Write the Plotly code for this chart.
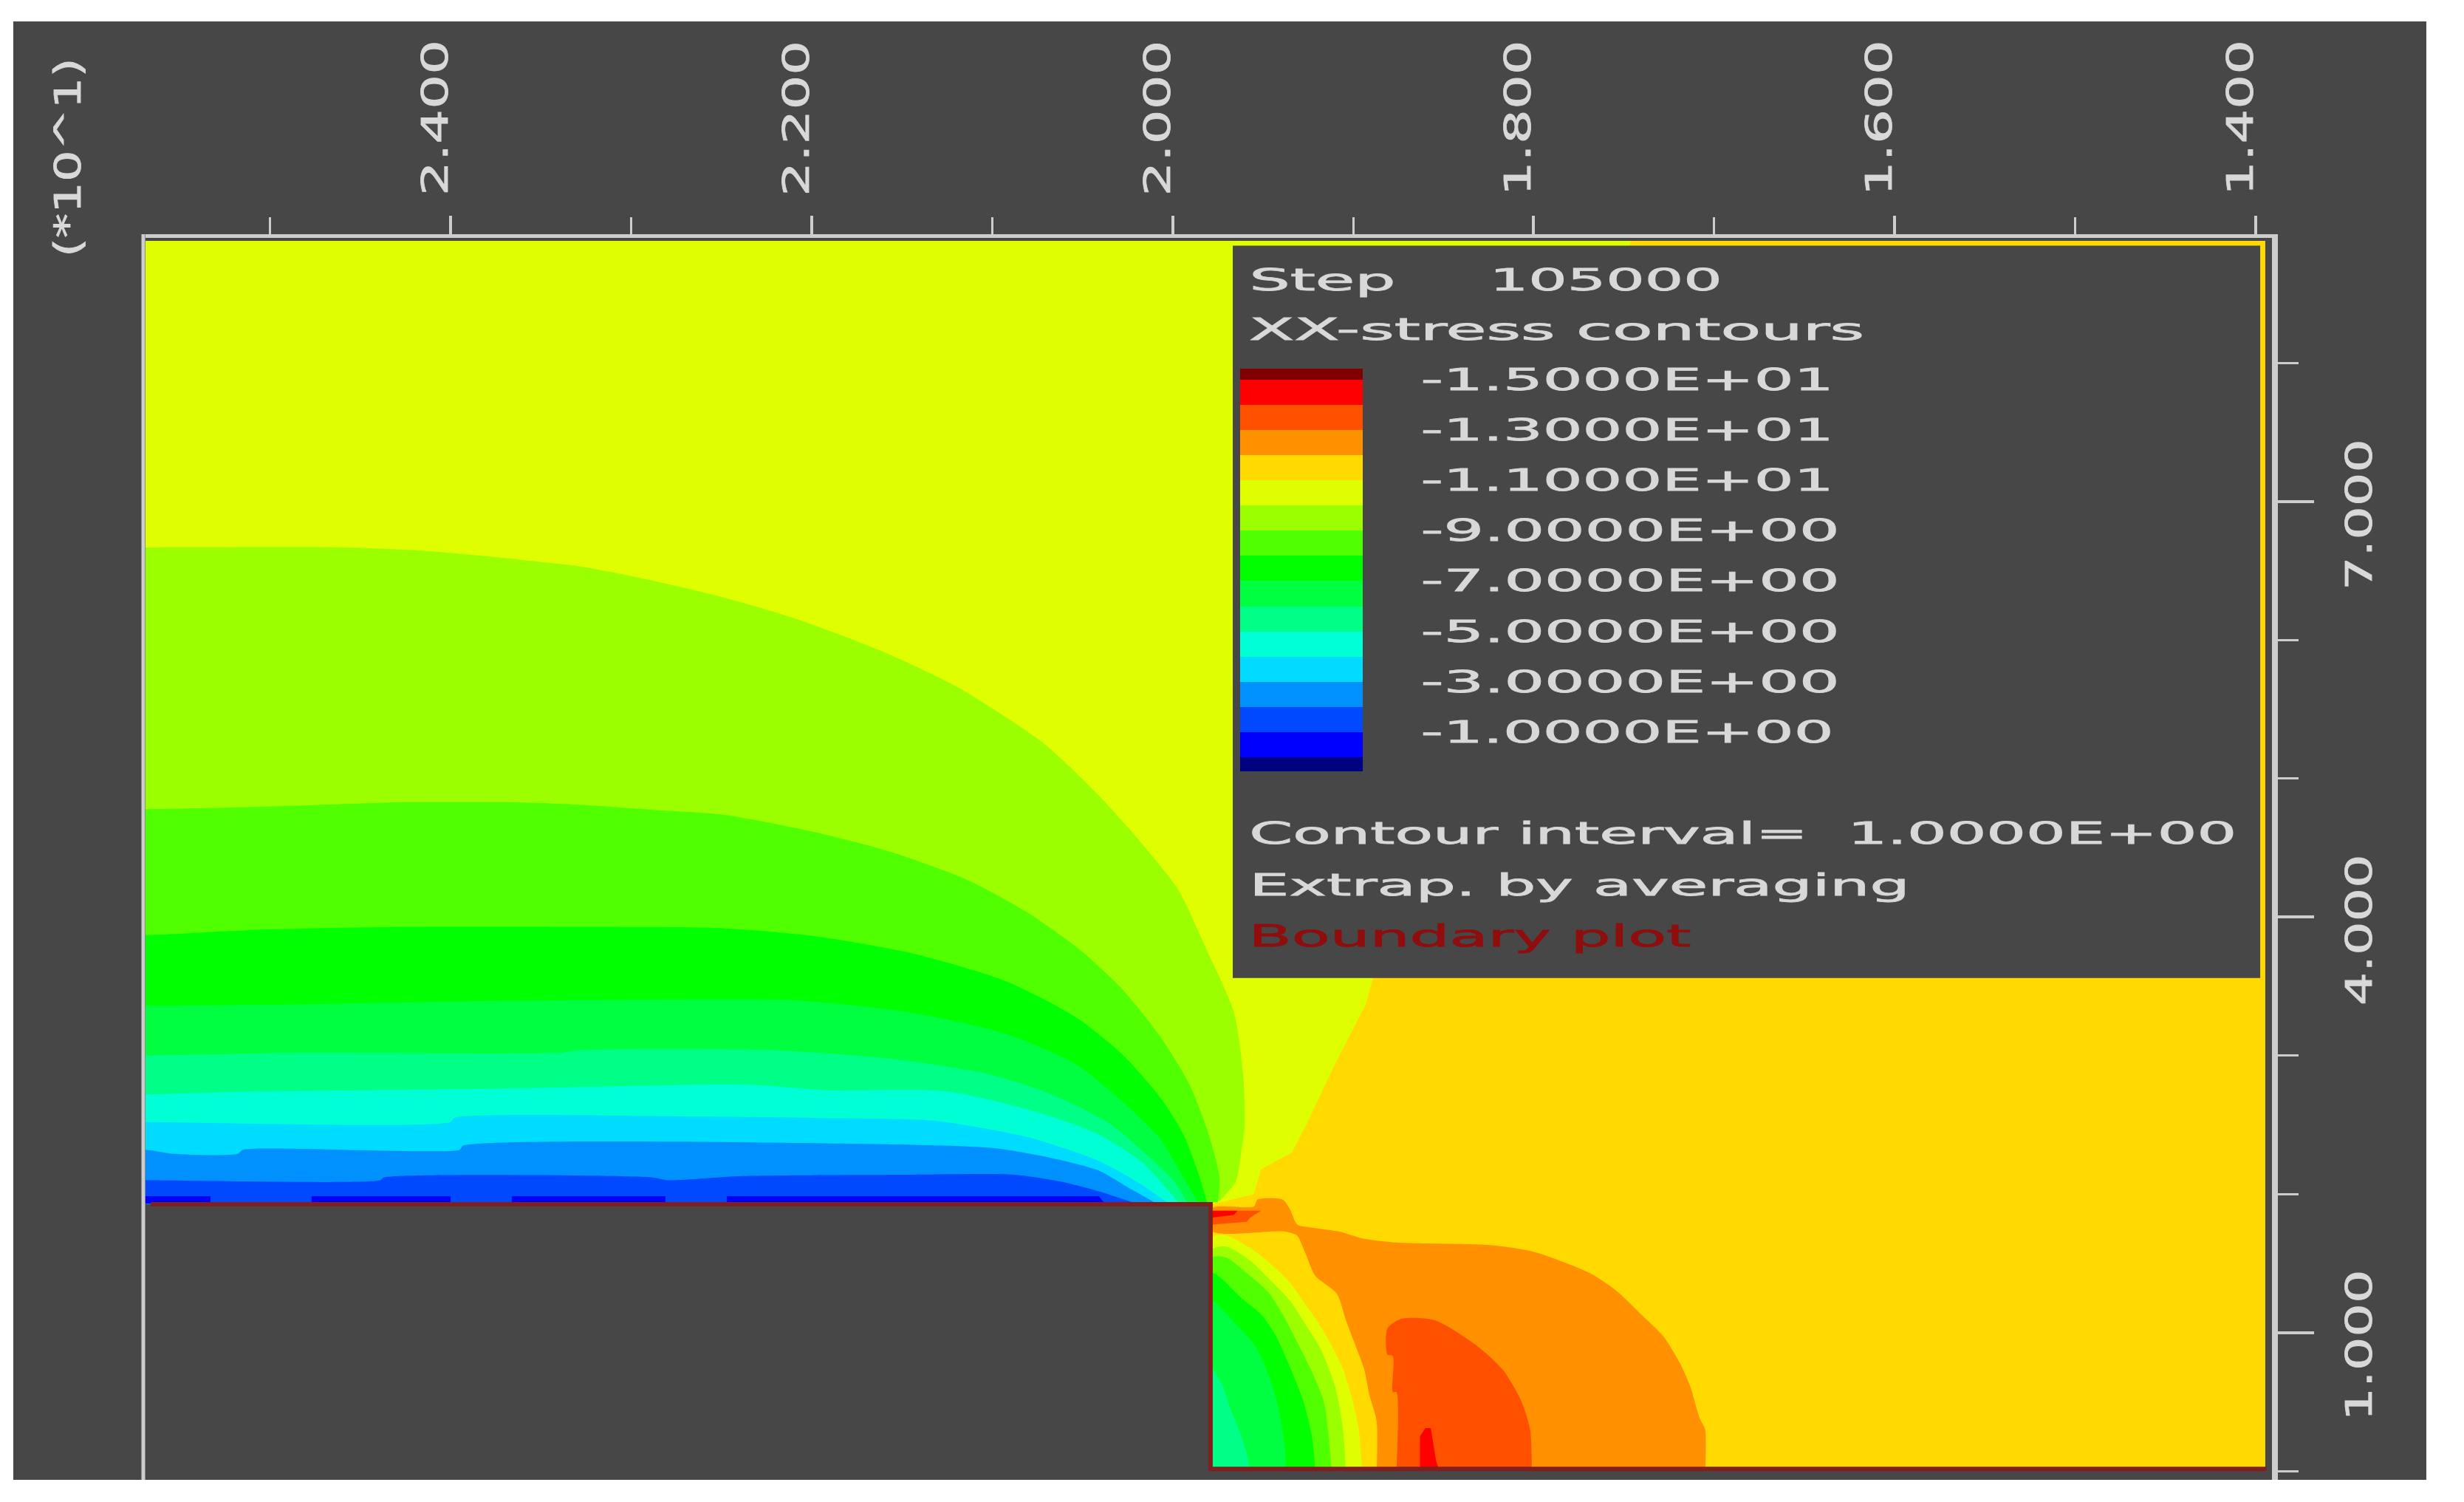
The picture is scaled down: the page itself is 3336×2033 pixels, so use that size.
import json
import plotly.graph_objects as go

# Page size and a helper for pixel positions of frame/text (from the reference)
W = 3336
H = 2033


def fx(px):
    return px / W


def fy(py):
    return 1 - py / H


# Axis ticks
x_major = [24, 22, 20, 18, 16, 14]
x_minor = [25, 23, 21, 19, 17, 15]
x_labels = ["2.400", "2.200", "2.000", "1.800", "1.600", "1.400"]
y_major = [7, 4, 1]
y_minor = [0, 2, 3, 5, 6, 8]
y_labels = ["7.000", "4.000", "1.000"]

# Legend
legend_colors = ["#800000", "#ff0000", "#ff5000", "#ff9100", "#ffd900", "#dfff00",
                 "#9bff00", "#50ff00", "#00ff00", "#00ff40", "#00ff87", "#00ffd5",
                 "#00dcff", "#0091ff", "#0049ff", "#0000ff", "#000080"]
legend_edges = [-15.44, -15, -14, -13, -12, -11, -10, -9, -8, -7, -6, -5, -4, -3, -2, -1, 0, 0.56]
legend_values = [-15, -13, -11, -9, -7, -5, -3, -1]
legend_labels = ["-1.5000E+01", "-1.3000E+01", "-1.1000E+01", "-9.0000E+00",
                 "-7.0000E+00", "-5.0000E+00", "-3.0000E+00", "-1.0000E+00"]

# Field outline, x runs backwards on the axis
field_x = [25.69, 25.69, 13.947, 13.947, 19.78, 19.78]
field_y = [1.93, 8.885, 8.885, 0, 0, 1.93]

# Contours above the block, left edge towards the corner
yellow_x = [25.69, 17.46, 18.89, 18.93, 19.10, 19.26, 19.34, 19.51, 19.55, 19.70, 19.78]
yellow_y = [8.885, 8.885, 3.56, 3.37, 2.94, 2.50, 2.30, 2.18, 2.00, 1.95, 1.93]
c10_x = [25.69, 24.58, 24.08, 23.27, 22.88, 22.49, 22.10, 21.61, 21.19, 20.72, 20.41, 20.15, 19.97, 19.81, 19.66, 19.61, 19.60, 19.62, 19.65, 19.74]
c10_y = [6.67, 6.67, 6.64, 6.53, 6.43, 6.31, 6.16, 5.92, 5.66, 5.26, 4.88, 4.50, 4.20, 3.76, 3.31, 2.87, 2.50, 2.30, 2.09, 1.95]
c9_x = [25.69, 24.97, 24.26, 23.66, 23.27, 22.83, 22.49, 21.97, 21.56, 21.14, 20.80, 20.51, 20.28, 20.07, 19.91, 19.81, 19.74, 19.75]
c9_y = [4.78, 4.80, 4.83, 4.83, 4.81, 4.77, 4.74, 4.61, 4.47, 4.27, 4.03, 3.76, 3.48, 3.14, 2.80, 2.47, 2.12, 1.94]
c8_x = [25.69, 25.05, 24.26, 23.27, 22.49, 21.97, 21.45, 20.93, 20.54, 20.28, 20.07, 19.94, 19.85, 19.81]
c8_y = [3.87, 3.91, 3.93, 3.93, 3.92, 3.86, 3.74, 3.54, 3.28, 3.01, 2.70, 2.43, 2.12, 1.94]
c7_x = [25.69, 24.84, 24.00, 23.27, 22.11, 21.45, 20.93, 20.54, 20.28, 20.07, 19.94, 19.86]
c7_y = [3.36, 3.37, 3.39, 3.40, 3.40, 3.31, 3.16, 2.94, 2.67, 2.40, 2.12, 1.94]
c6_x = [25.69, 24.84, 23.40, 23.27, 22.24, 21.58, 21.03, 20.67, 20.35, 20.15, 19.99, 19.92]
c6_y = [3.00, 3.02, 3.02, 3.04, 3.04, 2.98, 2.87, 2.72, 2.51, 2.29, 2.09, 1.94]
c5_x = [25.69, 25.13, 23.80, 22.36, 21.92, 21.24, 20.72, 20.41, 20.17, 20.04, 19.97]
c5_y = [2.72, 2.74, 2.76, 2.79, 2.75, 2.74, 2.58, 2.43, 2.23, 2.05, 1.94]
c4_x = [25.69, 24.00, 23.98, 22.63, 21.97, 21.32, 20.80, 20.41, 20.20, 20.03]
c4_y = [2.52, 2.52, 2.55, 2.56, 2.55, 2.53, 2.41, 2.24, 2.09, 1.94]
c3_x = [25.69, 25.53, 25.18, 25.15, 23.95, 23.93, 21.58, 20.98, 20.67, 20.41, 20.25, 20.10]
c3_y = [2.32, 2.29, 2.29, 2.32, 2.32, 2.35, 2.36, 2.33, 2.26, 2.17, 2.05, 1.94]
c2_x = [25.69, 24.39, 24.37, 22.88, 22.80, 22.38, 21.45, 20.88, 20.62, 20.41, 20.22]
c2_y = [2.10, 2.10, 2.12, 2.12, 2.10, 2.13, 2.14, 2.14, 2.09, 2.02, 1.94]
c1_x = [25.69, 25.33, 25.33, 24.77, 24.77, 24.00, 24.00, 23.66, 23.66, 22.81, 22.81, 22.47, 22.47, 20.41, 20.38, 25.69]
c1_y = [1.985, 1.985, 1.94, 1.94, 1.985, 1.985, 1.94, 1.94, 1.985, 1.985, 1.94, 1.94, 1.985, 1.985, 1.94, 1.93]

# Compression lobe right of the wall, each one starts and ends on the bottom edge
orange_x = [18.87, 18.87, 18.91, 18.94, 19.00, 19.04, 19.09, 19.21, 19.27, 19.31, 19.38, 19.78,
            19.78, 19.55, 19.53, 19.39, 19.35, 19.31, 19.24, 19.08, 18.95, 18.76, 18.23, 17.99, 17.69, 17.54, 17.38, 17.28, 17.19, 17.13, 17.08, 17.05, 17.05]
orange_y = [0, 0.36, 0.55, 0.74, 0.95, 1.09, 1.28, 1.41, 1.59, 1.70, 1.73, 1.73,
            1.90, 1.91, 1.96, 1.96, 1.89, 1.78, 1.76, 1.73, 1.68, 1.65, 1.63, 1.58, 1.43, 1.30, 1.10, 0.97, 0.78, 0.60, 0.38, 0.30, 0]
deep_x = [18.76, 18.76, 18.78, 18.78, 18.81, 18.81, 18.73, 18.55, 18.32, 18.17, 18.07, 18.02, 18.01]
deep_y = [0, 0.57, 0.57, 0.83, 0.84, 1.03, 1.10, 1.09, 0.91, 0.73, 0.51, 0.30, 0]
red_x = [18.63, 18.63, 18.60, 18.57, 18.54, 18.52]
red_y = [0, 0.25, 0.31, 0.31, 0.07, 0]
tip_deep_x = [19.78, 19.51, 19.57, 19.59, 19.78]
tip_deep_y = [1.88, 1.88, 1.83, 1.80, 1.78]
tip_red_x = [19.78, 19.64, 19.66, 19.78]
tip_red_y = [1.88, 1.88, 1.85, 1.83]

# Bands hugging the wall, top of the wall to the bottom edge
w11_x = [19.78, 19.70, 19.57, 19.46, 19.35, 19.24, 19.16, 19.06, 19.01, 18.97, 18.95]
w11_y = [1.69, 1.70, 1.61, 1.50, 1.36, 1.16, 1.00, 0.75, 0.54, 0.31, 0]
w10_x = [19.78, 19.70, 19.57, 19.46, 19.35, 19.27, 19.18, 19.10, 19.06, 19.04]
w10_y = [1.60, 1.62, 1.52, 1.38, 1.23, 1.07, 0.88, 0.61, 0.34, 0]
w9_x = [19.78, 19.70, 19.59, 19.47, 19.39, 19.31, 19.23, 19.16, 19.12]
w9_y = [1.54, 1.54, 1.43, 1.29, 1.13, 0.93, 0.72, 0.49, 0]
w8_x = [19.78, 19.73, 19.62, 19.51, 19.43, 19.35, 19.28, 19.23, 19.21]
w8_y = [1.43, 1.39, 1.25, 1.13, 0.98, 0.75, 0.52, 0.26, 0]
w7_x = [19.78, 19.72, 19.62, 19.54, 19.47, 19.42, 19.38, 19.37]
w7_y = [1.23, 1.16, 1.02, 0.90, 0.70, 0.49, 0.20, 0]
w6_x = [19.78, 19.76, 19.72, 19.68, 19.63, 19.59, 19.57]
w6_y = [0.74, 0.70, 0.61, 0.45, 0.29, 0.13, 0]

# Block and the strip under the field, covers whatever the curves overshoot
mask_x = [26.5, 19.79, 19.79, 13.0, 13.0, 26.5]
mask_y = [1.926, 1.926, 0.015, 0.015, -0.3, -0.3]
boundary_x = [25.66, 19.79, 19.79, 13.94]
boundary_y = [1.926, 1.926, 0.015, 0.015]
box_x = [19.667, 13.975, 13.975, 19.667]
box_y = [8.85, 8.85, 3.56, 3.56]

GREY = "#474747"
TEXT = "#d8d8d8"
LINE = "#cdcdcd"

fig = go.Figure()


def band(xs, ys, color, smooth=False):
    line = dict(width=0)
    if smooth:
        line = dict(width=0, shape="spline", smoothing=0.7)
    fig.add_trace(go.Scatter(x=xs, y=ys, mode="lines", fill="toself", fillcolor=color,
                             line=line, hoverinfo="skip", showlegend=False))


# Painted back to front, each band sits on the one before it
band(field_x, field_y, "#ffd900")
band(yellow_x + [25.69], yellow_y + [1.93], "#dfff00")
for xs, ys, color in [(c10_x, c10_y, "#9bff00"), (c9_x, c9_y, "#50ff00"), (c8_x, c8_y, "#00ff00"),
                      (c7_x, c7_y, "#00ff40"), (c6_x, c6_y, "#00ff87"), (c5_x, c5_y, "#00ffd5"),
                      (c4_x, c4_y, "#00dcff"), (c3_x, c3_y, "#0091ff"), (c2_x, c2_y, "#0049ff")]:
    # start outside the axis so the rounded corner is clipped away
    band([26.2, 26.2] + xs, [1.93] + ys[:1] + ys, color, smooth=True)
band(c1_x, c1_y, "#0000ff")
band(orange_x, orange_y, "#ff9100", smooth=True)
band(deep_x, deep_y, "#ff5000", smooth=True)
band(red_x, red_y, "#ff0000")
band(tip_deep_x, tip_deep_y, "#ff5000")
band(tip_red_x, tip_red_y, "#ff0000")
for xs, ys, color in [(w11_x, w11_y, "#dfff00"), (w10_x, w10_y, "#9bff00"), (w9_x, w9_y, "#50ff00"),
                      (w8_x, w8_y, "#00ff00"), (w7_x, w7_y, "#00ff40"), (w6_x, w6_y, "#00ff87")]:
    band([19.78] + xs, [0] + ys, color, smooth=True)

band(mask_x, mask_y, GREY)
fig.add_trace(go.Scatter(x=boundary_x, y=boundary_y, mode="lines", line=dict(color="#7f1f1f", width=6),
                         hoverinfo="skip", showlegend=False))
band(box_x, box_y, GREY)

# Colour strip of the legend
n = len(legend_colors)
scale = []
for i, c in enumerate(legend_colors):
    scale.append([i / n, c])
    scale.append([(i + 1) / n, c])
fig.add_trace(go.Heatmap(x=[0, 1], y=legend_edges, z=[[i] for i in range(n)], zmin=-0.5, zmax=n - 0.5,
                         colorscale=scale, showscale=False, hoverinfo="skip", xaxis="x2", yaxis="y2"))

# (text, centre x px, centre y px, stretched length px, colour)
legend_text = [
    ("Step", 1790, 379, 198, TEXT),
    ("105000", 2174, 379, 315, TEXT),
    ("XX-stress contours", 2107, 446, 833, TEXT),
    ("Contour interval=\u00a0\u00a01.0000E+00", 2360, 1128, 1337, TEXT),
    ("Extrap. by averaging", 2138, 1198, 894, TEXT),
    ("Boundary plot", 1990, 1267, 599, "#8f0d0d"),
]

annotations = []
lengths = []


def add_text(text, size, length, color, angle=0, **pos):
    annotations.append(dict(text=text, showarrow=False, textangle=angle, xanchor="center", yanchor="middle",
                            font=dict(family="DejaVu Sans", size=size, color=color), **pos))
    lengths.append(length)


for text, cx, cy, length, color in legend_text:
    add_text(text, 40, length, color, xref="paper", yref="paper", x=fx(cx), y=fy(cy))
for value, text in zip(legend_values, legend_labels):
    length = 567 if text[1] != "1" else 559
    add_text(text, 40, length, TEXT, xref="paper", yref="y2", x=fx(1923 + length / 2), y=value)
for value, text in zip(x_major, x_labels):
    add_text(text, 50, 211, TEXT, angle=-90, xref="x", yref="paper", x=value, y=fy(160), xshift=-21)
for value, text in zip(y_major, y_labels):
    add_text(text, 50, 205, TEXT, angle=-90, xref="paper", yref="y", x=fx(3194), y=value, yshift=-18)
add_text("(*10^1)", 50, 270, TEXT, angle=-90, xref="paper", yref="paper", x=fx(92), y=fy(214))

fig.update_layout(
    width=W,
    height=H,
    margin=dict(l=0, r=0, t=0, b=0),
    paper_bgcolor="white",
    plot_bgcolor=GREY,
    showlegend=False,
    annotations=annotations,
    shapes=[
        dict(type="rect", xref="paper", yref="paper", layer="below",
             x0=fx(18), x1=fx(3285), y0=fy(29), y1=fy(2003),
             fillcolor=GREY, line=dict(width=0)),
        dict(type="line", xref="paper", yref="paper",
             x0=fx(194), x1=fx(194), y0=fy(2003), y1=fy(317),
             line=dict(color=LINE, width=5)),
    ],
    xaxis=dict(
        domain=[fx(197), fx(3076)],
        range=[25.69, 13.91],
        side="top",
        showgrid=False,
        zeroline=False,
        showline=True,
        linecolor=LINE,
        linewidth=5,
        tickvals=x_major,
        ticks="outside",
        ticklen=25,
        tickwidth=4,
        tickcolor=LINE,
        showticklabels=False,
        minor=dict(tickvals=x_minor, ticks="outside", ticklen=23, tickwidth=3, tickcolor=LINE),
    ),
    yaxis=dict(
        domain=[fy(2003), fy(322)],
        range=[-0.064, 8.906],
        side="right",
        showgrid=False,
        zeroline=False,
        showline=True,
        linecolor=LINE,
        linewidth=8,
        tickvals=y_major,
        ticks="outside",
        ticklen=49,
        tickwidth=4,
        tickcolor=LINE,
        showticklabels=False,
        minor=dict(tickvals=y_minor, ticks="outside", ticklen=28, tickwidth=3, tickcolor=LINE),
    ),
    xaxis2=dict(domain=[fx(1679), fx(1845)], range=[0, 1], visible=False, anchor="y2"),
    yaxis2=dict(domain=[fy(1044), fy(499)], range=[0.56, -15.44], visible=False, anchor="x2"),
)

# Reference text is stretched along its run, plotly has no font setting for that
post = """
document.body.style.margin = '0';
document.body.style.overflow = 'hidden';
var lengths = %s;
document.querySelectorAll('.annotation').forEach(function (a) {
    var i = parseInt(a.getAttribute('data-index'));
    var t = a.querySelector('text');
    t.setAttribute('textLength', lengths[i]);
    t.setAttribute('lengthAdjust', 'spacingAndGlyphs');
    t.style.stroke = t.style.fill;
    t.style.strokeWidth = '0.8px';
});
""" % json.dumps(lengths)

fig.write_html("out.html", post_script=post, config={"displayModeBar": False})
